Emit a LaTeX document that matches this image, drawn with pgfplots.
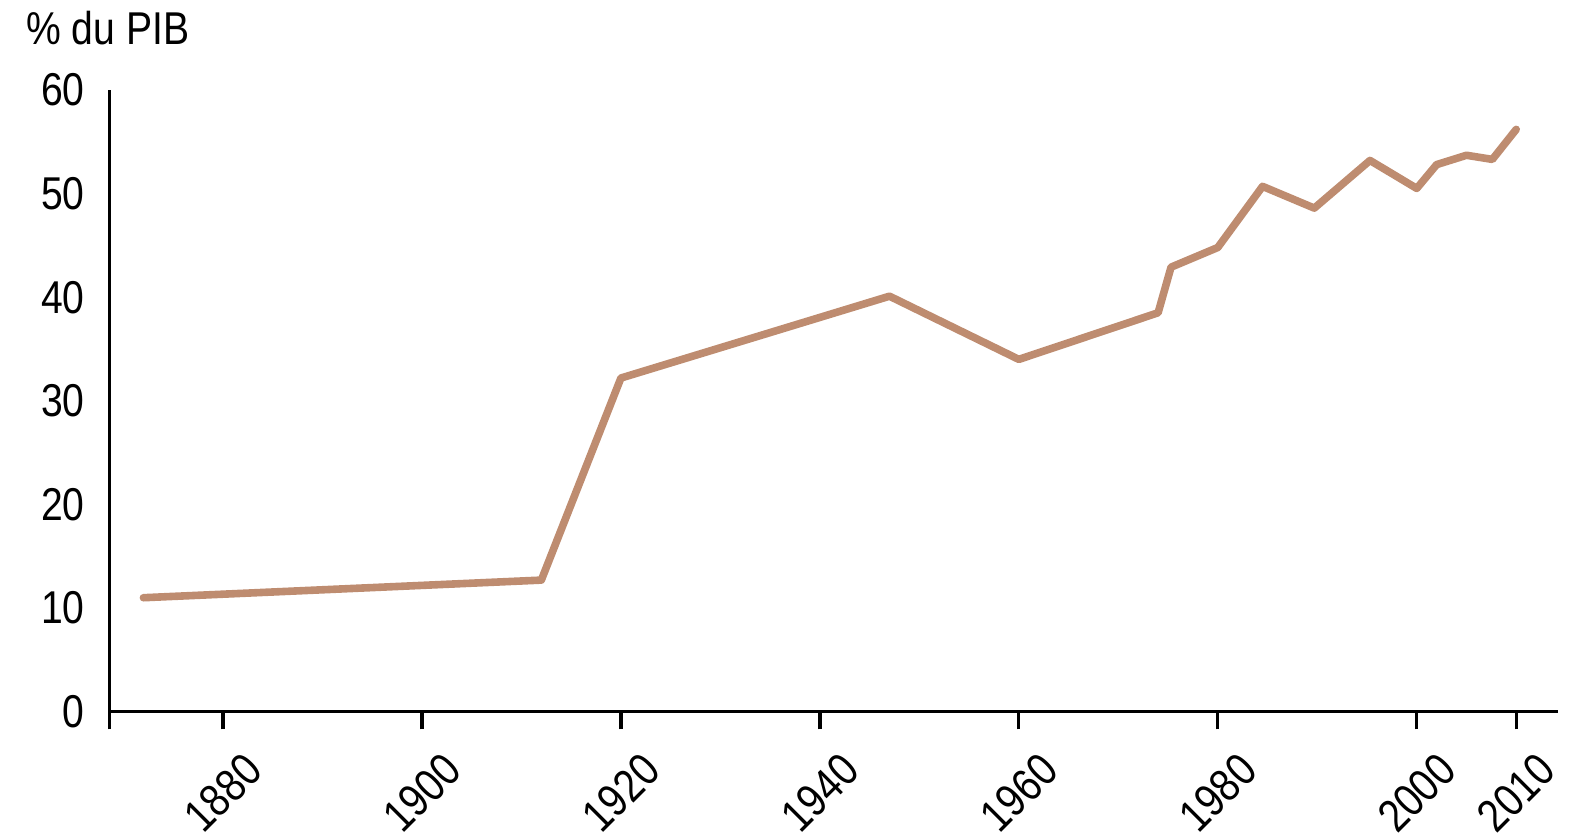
\documentclass[border=0pt]{standalone}
\usepackage{fontspec}
\setmainfont{Liberation Sans}[FakeStretch=0.85]
\usepackage{pgfplots}
\pgfplotsset{compat=1.18}
\definecolor{tanline}{RGB}{190,140,112}
\begin{document}
\fontsize{23}{27}\selectfont
\begin{tikzpicture}
\path[use as bounding box] (-54.65pt,-63.65pt) rectangle (740.35pt,355.85pt);
\begin{axis}[
  at={(0pt,0pt)}, anchor=south west,
  scale only axis, width=724.35pt, height=310.85pt,
  xmin=1868.57, xmax=2014.2, ymin=0, ymax=60,
  axis x line=bottom, axis y line=left,
  axis line style={-, line width=1.65pt, black},
  xtick={1880,1900,1920,1940,1960,1980,2000,2010},
  ytick={0,10,20,30,40,50,60},
  tick align=outside,
  major tick length=8.8pt,
  x tick style={line width=1.65pt, black},
  y tick style={draw=none},
  extra x ticks={1868.57}, extra x tick labels={},
  extra x tick style={x tick style={line width=1.65pt, black}},
  xticklabel style={rotate=45, anchor=center, inner sep=0pt, xshift=-22.5pt, yshift=-22.5pt},
  yticklabel style={anchor=east, inner sep=0pt, xshift=-3.4pt},
  /pgf/number format/assume math mode=true,
  /pgf/number format/1000 sep={},
  clip=false,
]
\addplot[color=tanline, line width=3.8pt, line cap=round, line join=round, mark=none] coordinates {
(1872,11.0) (1912,12.7) (1920,32.2) (1947,40.1) (1960,34.0) (1974,38.5)
(1975.3,42.9) (1980,44.8) (1984.5,50.7) (1989.7,48.6) (1995.3,53.2)
(2000,50.5) (2002,52.8) (2005,53.7) (2007.6,53.3) (2010,56.2)
};
\node[anchor=base west, inner sep=0pt, xshift=-41.65pt, yshift=22.5pt] at (rel axis cs:0,1) {\% du PIB};
\end{axis}
\end{tikzpicture}
\end{document}
